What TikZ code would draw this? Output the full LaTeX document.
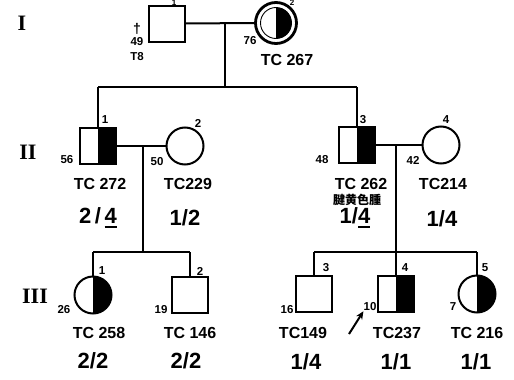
\documentclass[tikz,border=0pt]{standalone}
\usepackage{fontspec}
\setmainfont{Liberation Sans}
\newfontfamily\romanf{Liberation Serif}
\newfontfamily\cjk{Noto Sans CJK JP}
\usetikzlibrary{arrows.meta}
\newcommand\myul[1]{\leavevmode\vtop{\hbox{#1}\kern2.5pt\hrule height 1.8pt}}
\tikzset{
 sq/.style={draw, line width=2pt, rectangle, minimum size=36pt, inner sep=0pt},
 ci/.style={draw, line width=2pt, circle, minimum size=37pt, inner sep=0pt},
 half/.style={path picture={\fill (path picture bounding box.north) rectangle (path picture bounding box.south east);}},
 num/.style={font=\bfseries\fontsize{11.5}{11.5}\selectfont, inner sep=0pt},
 tc/.style={font=\bfseries\fontsize{16}{16}\selectfont, inner sep=0pt},
 ratio/.style={font=\bfseries\fontsize{22}{22}\selectfont, inner sep=0pt},
 gen/.style={font=\romanf\bfseries\fontsize{22}{22}\selectfont, inner sep=0pt},
 ln/.style={line width=2pt},
}
\begin{document}
\begin{tikzpicture}[x=1pt,y=-1pt]
\useasboundingbox (0,0) rectangle (514,380);
% generation labels
\node[gen] (gI) at (22,23) {I};
\node[gen] (gII) at (28,152) {II};
\node[gen] (gIII) at (35,296) {III};
% generation I
\node[sq] (s11) at (166.5,23.5) {};
\node[circle, draw, line width=2.8pt, minimum size=41pt, inner sep=0pt] (c12) at (276,23) {};
\node[circle, draw, line width=0.9pt, minimum size=31pt, inner sep=0pt, half] (c12i) at (276,23) {};
\node[num, font=\bfseries\fontsize{8}{8}\selectfont] (n11) at (174,3) {1};
\node[num, font=\bfseries\fontsize{8}{8}\selectfont] (n12) at (292,3) {2};
\node[num, font=\bfseries\fontsize{14}{14}\selectfont] (dag) at (137,29) {†};
\node[num] (a11) at (137,42) {49};
\node[num] (t11) at (137,57) {T8};
\node[num] (a12) at (250,41) {76};
\node[tc] (tc12) at (287,60) {TC 267};
\coordinate (m1) at (225,23);
\coordinate (d1) at (225,87);
\coordinate (b1l) at (98,87);
\coordinate (b1r) at (357,87);
\draw[ln] (s11.east) -- (c12.west);
\draw[ln] (m1) -- (d1);
\draw[ln] (b1l) -- (b1r);
% generation II
\node[sq, half] (s21) at (98,146) {};
\node[ci] (c22) at (185,146) {};
\node[sq, half] (s23) at (357,145) {};
\node[ci] (c24) at (441,145) {};
\draw[ln] (b1l) -- (s21.north);
\draw[ln] (b1r) -- (s23.north);
\draw[ln] (s21.east) -- (c22.west);
\draw[ln] (s23.east) -- (c24.west);
\node[num] (n21) at (105,120) {1};
\node[num] (n22) at (198,123) {2};
\node[num] (n23) at (363,120) {3};
\node[num] (n24) at (446,120) {4};
\node[num] (a21) at (67,160) {56};
\node[num] (a22) at (157,162) {50};
\node[num] (a23) at (322,160) {48};
\node[num] (a24) at (413,160) {42};
\node[tc] (tc21) at (100,184) {TC 272};
\node[tc] (tc22) at (188,184) {TC229};
\node[tc] (tc23) at (361,184) {TC 262};
\node[tc] (tc24) at (443,184) {TC214};
\node[font=\cjk\bfseries\fontsize{12}{12}\selectfont, inner sep=0pt] (x23) at (357,200) {腱黄色腫};
\node[ratio] (r21) at (98,218) {2\,/\,\myul{4}};
\node[ratio] (r22) at (185,218) {1/2};
\node[ratio] (r23) at (355,218) {1/\myul{4}};
\node[ratio] (r24) at (442,219) {1/4};
% generation III
\coordinate (m2) at (143,146);
\coordinate (d2) at (143,252);
\coordinate (b2l) at (93,252);
\coordinate (b2r) at (190,252);
\coordinate (m3) at (396,145);
\coordinate (d3) at (396,252);
\coordinate (b3l) at (314,252);
\coordinate (b3r) at (477,252);
\draw[ln] (m2) -- (d2);
\draw[ln] (b2l) -- (b2r);
\draw[ln] (m3) -- (d3);
\draw[ln] (b3l) -- (b3r);
\node[ci, half] (c31) at (93,295) {};
\node[sq] (s32) at (190,295) {};
\node[sq] (s33) at (314,294) {};
\node[sq, half] (s34) at (396,294) {};
\node[ci, half] (c35) at (477,294) {};
\draw[ln] (b2l) -- (c31.north);
\draw[ln] (b2r) -- (s32.north);
\draw[ln] (b3l) -- (s33.north);
\draw[ln] (d3) -- (s34.north);
\draw[ln] (b3r) -- (c35.north);
\node[num] (n31) at (102,271) {1};
\node[num] (n32) at (200,271) {2};
\node[num] (n33) at (326,268) {3};
\node[num] (n34) at (405,268) {4};
\node[num] (n35) at (485,268) {5};
\node[num] (a31) at (64,310) {26};
\node[num] (a32) at (161,310) {19};
\node[num] (a33) at (287,310) {16};
\node[num] (a34) at (370,307) {10};
\node[num] (a35) at (453,307) {7};
\coordinate (arr) at (349,334);
\draw[line width=2pt, -{Stealth[length=8pt,width=7pt]}] (arr) -- (a34.south west);
\node[tc] (tc31) at (99,333) {TC 258};
\node[tc] (tc32) at (190,333) {TC 146};
\node[tc] (tc33) at (303,333) {TC149};
\node[tc] (tc34) at (397,333) {TC237};
\node[tc] (tc35) at (477,333) {TC 216};
\node[ratio] (r31) at (93,361) {2/2};
\node[ratio] (r32) at (186,361) {2/2};
\node[ratio] (r33) at (306,362) {1/4};
\node[ratio] (r34) at (396,362) {1/1};
\node[ratio] (r35) at (476,362) {1/1};
\end{tikzpicture}
\end{document}
